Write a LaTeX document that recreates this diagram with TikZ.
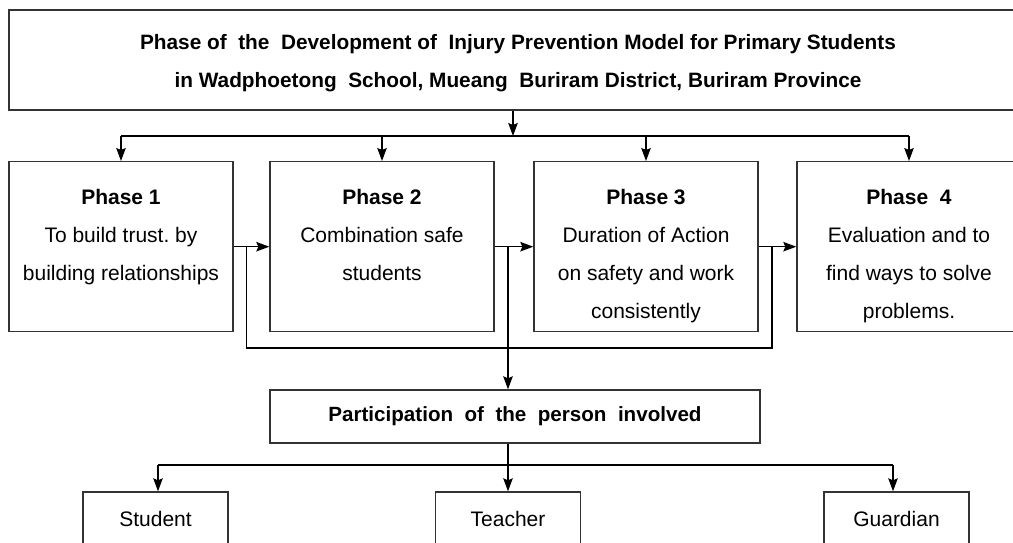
\documentclass[tikz,border=0pt]{standalone}
\usepackage{fontspec}
\setmainfont{Liberation Sans}
\usetikzlibrary{arrows.meta}
\begin{document}
\frenchspacing
\begin{tikzpicture}[x=1pt,y=-1pt,
  frame/.style={draw=black!80, line width=1.4pt, inner sep=0pt, fill=none},
  phasebox/.style={frame, minimum width=224pt, minimum height=170pt},
  smallbox/.style={frame, minimum width=145pt, minimum height=54pt, font=\fontsize{21pt}{38pt}\selectfont},
  txt/.style={inner sep=0pt, align=center, font=\fontsize{21pt}{38pt}\selectfont},
  conn/.style={draw=black, line width=1.2pt},
  arr/.style={conn, -{Stealth[length=13pt,width=9.5pt,inset=2pt]}}]
\useasboundingbox[fill=white] (0,0) rectangle (1013,542);
% top box
\node[frame, minimum width=1018pt, minimum height=100pt] (top) at (518,60) {};
\node[txt, font=\bfseries\fontsize{20.8pt}{38pt}\selectfont] (title) at (518,63.5)
  {Phase of\ \ the\ \ Development of\ \ Injury Prevention Model for Primary Students\\
   in Wadphoetong\ \ School, Mueang\ \ Buriram District, Buriram Province};
% phase boxes
\node[phasebox] (p1) at (121,246.7) {};
\node[phasebox] (p2) at (382,246.7) {};
\node[phasebox] (p3) at (646,246.7) {};
\node[phasebox] (p4) at (909,246.7) {};
\node[txt, anchor=north] (t1) at (121,189) {\textbf{Phase 1}\\To build trust. by\\building relationships};
\node[txt, anchor=north] (t2) at (382,189) {\textbf{Phase 2}\\Combination safe\\students};
\node[txt, anchor=north] (t3) at (646,189) {\textbf{Phase 3}\\Duration of Action\\on safety and work\\consistently};
\node[txt, anchor=north] (t4) at (909,189) {\textbf{Phase\ \ 4}\\Evaluation and to\\find ways to solve\\problems.};
% participation
\node[frame, minimum width=490pt, minimum height=53pt, font=\bfseries\fontsize{20.6pt}{38pt}\selectfont] (part) at (515,416.5)
  {Participation\ \ of\ \ the\ \ person\ \ involved};
% bottom boxes
\node[smallbox] (student) at (155.5,519) {Student};
\node[smallbox] (teacher) at (508,519) {Teacher};
\node[smallbox] (guardian) at (896.5,519) {Guardian};
% coordinates
\coordinate (hub1) at (513,136);
\coordinate (bl) at (246.7,348);
\coordinate (bm) at (508,348);
\coordinate (br) at (772,348);
\coordinate (hub2) at (508,465);
\coordinate (sa) at (158,465);
\coordinate (ga) at (893,465);
% top connectors
\draw[arr] (top.south -| hub1) -- (hub1);
\draw[conn] (hub1 -| p1) -- (hub1 -| p4);
\draw[arr] (hub1 -| p1) -- (p1.north);
\draw[arr] (hub1 -| p2) -- (p2.north);
\draw[arr] (hub1 -| p3) -- (p3.north);
\draw[arr] (hub1 -| p4) -- (p4.north);
% phase chain
\draw[arr] (p1.east) -- (p2.west);
\draw[arr] (p2.east) -- (p3.west);
\draw[arr] (p3.east) -- (p4.west);
% bracket
\draw[conn] (bl |- p1.east) -- (bl) -- (br) -- (br |- p3.east);
\draw[arr] (bm |- p2.east) -- (bm |- part.north);
% participation to people
\draw[arr] (hub2 |- part.south) -- (teacher.north);
\draw[conn] (sa) -- (ga);
\draw[arr] (sa) -- (sa |- student.north);
\draw[arr] (ga) -- (ga |- guardian.north);
\end{tikzpicture}
\end{document}
